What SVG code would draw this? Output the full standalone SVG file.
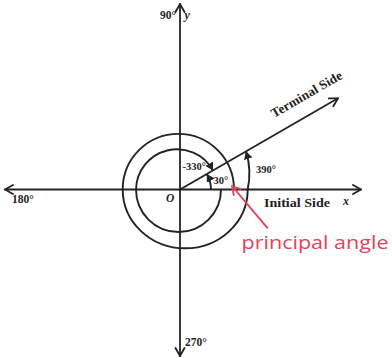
<svg xmlns="http://www.w3.org/2000/svg" width="392" height="358" viewBox="0 0 392 358">
<style>
.ax{stroke:#232323;stroke-width:1.8;fill:none;stroke-linecap:round}
.arc{stroke:#232323;stroke-width:1.9;fill:none}
.lbl{font-family:"Liberation Serif","Times New Roman",serif;font-weight:bold;fill:#232323}
.it{font-style:italic}
.red{font-family:"Open Sans","Noto Sans",sans-serif;fill:#e2425a}
</style>
<defs>
<marker id="open" markerUnits="userSpaceOnUse" markerWidth="12" markerHeight="12" refX="9" refY="5" orient="auto-start-reverse" viewBox="0 0 12 10">
<path d="M1,0.5 L9,5 L1,9.5" fill="none" stroke="#232323" stroke-width="1.8" stroke-linecap="round" stroke-linejoin="round"/>
</marker>
<marker id="fill" markerUnits="userSpaceOnUse" markerWidth="9" markerHeight="9" refX="6" refY="3.5" orient="auto" viewBox="0 0 7 7">
<path d="M0,0 L6,3.5 L0,7 Z" fill="#232323"/>
</marker>
<marker id="redhead" markerUnits="userSpaceOnUse" markerWidth="12" markerHeight="12" refX="9" refY="5" orient="auto" viewBox="0 0 12 10">
<path d="M1,0.5 L9,5 L1,9.5" fill="none" stroke="#e2425a" stroke-width="1.8" stroke-linecap="round" stroke-linejoin="round"/>
</marker>
</defs>
<rect width="392" height="358" fill="#ffffff"/>
<g id="axes">
<line class="ax" x1="5" y1="189.5" x2="361" y2="189.5" marker-start="url(#open)" marker-end="url(#open)"/>
<line class="ax" x1="180" y1="356" x2="180" y2="4" marker-start="url(#open)" marker-end="url(#open)"/>
</g>
<g id="connectors">
<line id="terminal" class="ax" x1="180" y1="189.5" x2="338" y2="98.3" marker-end="url(#open)"/>
<path id="arc390" class="arc" d="M234,189.5 A55.65,55.65 0 0 0 122.7,189.5 A62.5,58.8 0 0 0 247.7,189.5 A75,75 0 0 0 246,151.4" marker-end="url(#fill)"/>
<path id="arc-330" class="arc" d="M221,189.5 A42.5,42.5 0 0 1 136,189.5 A41,41 0 0 1 212.9,170.5" marker-end="url(#fill)"/>
<path id="arc30" class="arc" d="M211,189.5 A31,31 0 0 0 206.8,174" marker-end="url(#fill)"/>
<line id="pointer" x1="267.7" y1="228.3" x2="232" y2="186" stroke="#e2425a" stroke-width="1.9" marker-end="url(#redhead)"/>
</g>
<g id="labels">
<text class="lbl" x="160" y="19" font-size="11.5">90°</text>
<text class="lbl it" x="184.5" y="19" font-size="12" font-weight="normal">y</text>
<text class="lbl" x="12" y="203" font-size="11.5">180°</text>
<text class="lbl" x="185" y="346" font-size="11.5">270°</text>
<text class="lbl it" x="166" y="202" font-size="11.5">O</text>
<text class="lbl it" x="343" y="205" font-size="12" font-weight="normal">x</text>
<text class="lbl" x="264" y="207" font-size="13" textLength="66" lengthAdjust="spacingAndGlyphs">Initial Side</text>
<text class="lbl" x="0" y="0" font-size="13" textLength="80" lengthAdjust="spacingAndGlyphs" transform="translate(274,118) rotate(-30)">Terminal Side</text>
<text class="lbl" x="182.5" y="169.5" font-size="10.5">-330°</text>
<text class="lbl" x="213.5" y="183.5" font-size="10.5">30°</text>
<text class="lbl" x="256" y="172.5" font-size="10.5">390°</text>
<text class="red" x="241.5" y="248.5" font-size="18.5" textLength="147" lengthAdjust="spacingAndGlyphs">principal angle</text>
</g>
</svg>
